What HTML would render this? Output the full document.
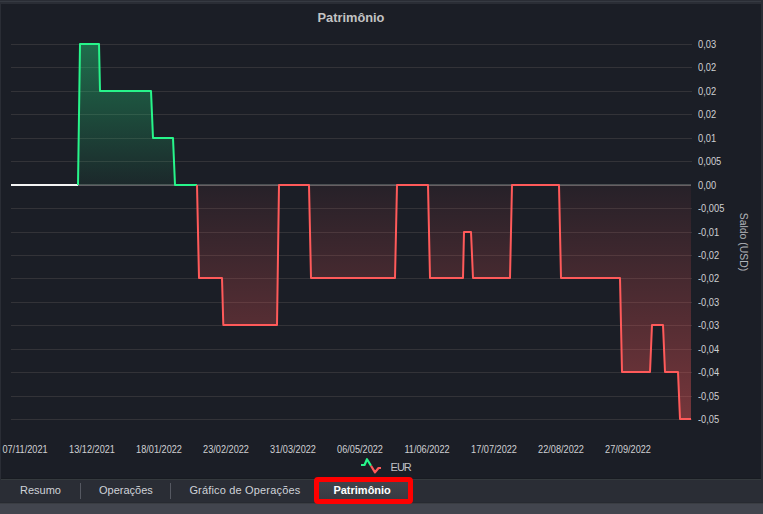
<!DOCTYPE html>
<html>
<head>
<meta charset="utf-8">
<style>
html,body{margin:0;padding:0;}
body{width:763px;height:514px;overflow:hidden;position:relative;background:#2a2d35;font-family:"Liberation Sans",sans-serif;}
.abs{position:absolute;}
#topline{left:0;top:1px;width:761px;height:1px;background:#363a42;}
#panel{left:1px;top:4px;width:760px;height:475px;background:#1b1e26;}
#tabline{left:1px;top:479px;width:760px;height:1px;background:#353a3e;}
#tabdark{left:1px;top:478px;width:760px;height:1px;background:#181b21;}
#bottom{left:0;top:504px;width:763px;height:10px;background:#42454e;}
#bottomline{left:0;top:502px;width:763px;height:2px;background:linear-gradient(#272a31 0 50%,#3a3d43 50% 100%);}
svg{position:absolute;left:0;top:0;}
.yl{position:absolute;left:698.2px;margin-top:1px;font-size:10px;line-height:10px;color:#cfd0d3;white-space:nowrap;transform:scaleX(0.93);transform-origin:0 0;}
.xl{position:absolute;top:444.6px;font-size:10px;line-height:10px;color:#cfd0d3;white-space:nowrap;width:80px;text-align:center;transform:scaleX(0.916);transform-origin:50% 0;}
#title{left:300.5px;top:11px;width:101px;text-align:center;font-weight:bold;font-size:12.8px;line-height:14px;color:#c3c3c3;}
#axis{left:743.5px;top:241.5px;font-size:11px;line-height:12px;color:#b2b5ba;white-space:nowrap;transform:translate(-50%,-50%) rotate(90deg) scaleX(0.95);}
#eur{left:390.6px;top:461px;font-size:11px;line-height:12px;color:#c0c2c6;letter-spacing:-1px;}
.tab{position:absolute;top:484px;font-size:11px;line-height:12px;color:#cfd2d8;white-space:nowrap;}
.sep{position:absolute;top:483px;width:1px;height:16px;background:#555861;}
#active{left:314px;top:477px;width:99px;height:27px;box-sizing:border-box;border:5px solid #ff0000;border-radius:4px;background:linear-gradient(#40434b,#373a42);}
#activetxt{left:333.4px;top:484px;font-size:11px;line-height:12px;font-weight:bold;color:#ffffff;}
</style>
</head>
<body>
<div class="abs" id="topline"></div>
<div class="abs" id="panel"></div>
<div class="abs" id="tabdark"></div>
<div class="abs" id="tabline"></div>
<div class="abs" id="bottom"></div>
<div class="abs" id="bottomline"></div>

<svg width="763" height="514" viewBox="0 0 763 514">
  <defs>
    <linearGradient id="gG" gradientUnits="userSpaceOnUse" x1="0" y1="44" x2="0" y2="185">
      <stop offset="0" stop-color="rgb(35,230,133)" stop-opacity="0.40"/>
      <stop offset="1" stop-color="rgb(35,230,133)" stop-opacity="0.05"/>
    </linearGradient>
    <linearGradient id="gR" gradientUnits="userSpaceOnUse" x1="0" y1="185" x2="0" y2="419">
      <stop offset="0" stop-color="rgb(255,90,90)" stop-opacity="0.05"/>
      <stop offset="1" stop-color="rgb(255,90,90)" stop-opacity="0.40"/>
    </linearGradient>
  </defs>
  <g fill="#333338" shape-rendering="crispEdges">
    <rect x="11" y="44" width="681" height="1"/>
    <rect x="11" y="67" width="681" height="1"/>
    <rect x="11" y="91" width="681" height="1"/>
    <rect x="11" y="114" width="681" height="1"/>
    <rect x="11" y="138" width="681" height="1"/>
    <rect x="11" y="161" width="681" height="1"/>
    <rect x="11" y="208" width="681" height="1"/>
    <rect x="11" y="232" width="681" height="1"/>
    <rect x="11" y="255" width="681" height="1"/>
    <rect x="11" y="278" width="681" height="1"/>
    <rect x="11" y="302" width="681" height="1"/>
    <rect x="11" y="325" width="681" height="1"/>
    <rect x="11" y="349" width="681" height="1"/>
    <rect x="11" y="372" width="681" height="1"/>
    <rect x="11" y="396" width="681" height="1"/>
    <rect x="11" y="419" width="681" height="1"/>
  </g>
  <g shape-rendering="crispEdges">
    <rect x="11" y="184" width="680" height="1" fill="#4a4f52"/>
    <rect x="11" y="185" width="680" height="1" fill="#5f5f63"/>
  </g>
  <path fill="url(#gG)" d="M78 185 L80 44 L99 44 L100 91 L151 91 L153 138 L173 138 L175 185 Z"/>
  <path fill="url(#gR)" d="M197 185 L199 278 L222 278 L223.3 325 L277 325 L279 185 L309 185 L311 278 L395 278 L397 185 L428 185 L430 278 L463 278 L464 232 L471 232 L473 278 L510 278 L512 185 L559 185 L561 278 L620 278 L622 372 L650 372 L652 325 L663 325 L665 372 L678 372 L680 419 L691 419 L691 185 Z"/>
  <g fill="none" stroke-width="2" stroke-linejoin="round" stroke-linecap="butt">
    <path stroke="#f4f4f4" d="M11 185 L78 185"/>
    <path stroke="#27f58a" d="M78 185 L80 44 L99 44 L100 91 L151 91 L153 138 L173 138 L175 185 L197 185"/>
    <path stroke="#ff5a5a" d="M197 185 L199 278 L222 278 L223.3 325 L277 325 L279 185 L309 185 L311 278 L395 278 L397 185 L428 185 L430 278 L463 278 L464 232 L471 232 L473 278 L510 278 L512 185 L559 185 L561 278 L620 278 L622 372 L650 372 L652 325 L663 325 L665 372 L678 372 L680 419 L691 419"/>
  </g>
  <g fill="none" stroke-width="2.2" stroke-linejoin="round">
    <path stroke="#27f58a" d="M361 465 L364.5 465 L367 459.2 L371 465.8"/>
    <path stroke="#ff5a5a" d="M371 465.8 L375 472.4 L378.5 468 L381 468"/>
  </g>
</svg>

<div class="abs" id="title">Patrimônio</div>

<div class="yl" style="top:39px">0,03</div>
<div class="yl" style="top:62px">0,02</div>
<div class="yl" style="top:86px">0,02</div>
<div class="yl" style="top:109px">0,02</div>
<div class="yl" style="top:133px">0,01</div>
<div class="yl" style="top:156px">0,005</div>
<div class="yl" style="top:180px">0,00</div>
<div class="yl" style="top:203px">-0,005</div>
<div class="yl" style="top:227px">-0,01</div>
<div class="yl" style="top:250px">-0,02</div>
<div class="yl" style="top:273px">-0,02</div>
<div class="yl" style="top:297px">-0,03</div>
<div class="yl" style="top:320px">-0,03</div>
<div class="yl" style="top:344px">-0,04</div>
<div class="yl" style="top:367px">-0,04</div>
<div class="yl" style="top:391px">-0,05</div>
<div class="yl" style="top:414px">-0,05</div>

<div class="abs" id="axis">Saldo (USD)</div>

<div class="xl" style="left:-15.5px">07/11/2021</div>
<div class="xl" style="left:51.5px">13/12/2021</div>
<div class="xl" style="left:118.5px">18/01/2022</div>
<div class="xl" style="left:185.5px">23/02/2022</div>
<div class="xl" style="left:252.5px">31/03/2022</div>
<div class="xl" style="left:319.5px">06/05/2022</div>
<div class="xl" style="left:386.5px">11/06/2022</div>
<div class="xl" style="left:453.5px">17/07/2022</div>
<div class="xl" style="left:520.5px">22/08/2022</div>
<div class="xl" style="left:587.5px">27/09/2022</div>

<div class="abs" id="eur">EUR</div>

<div class="tab" style="left:20px">Resumo</div>
<div class="sep" style="left:80px"></div>
<div class="tab" style="left:99px">Operações</div>
<div class="sep" style="left:170px"></div>
<div class="tab" style="left:189.4px;letter-spacing:0.17px">Gráfico de Operações</div>
<div class="abs" id="active"></div>
<div class="abs" id="activetxt">Patrimônio</div>
</body>
</html>
